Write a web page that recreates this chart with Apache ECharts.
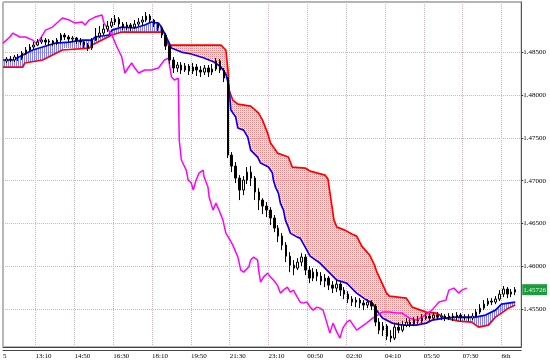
<!DOCTYPE html>
<html><head><meta charset="utf-8">
<script src="https://cdn.jsdelivr.net/npm/echarts@6/dist/echarts.min.js"></script>
<style>html,body{margin:0;padding:0;background:#fff}#c{width:550px;height:363px}</style>
</head><body><div id="c"></div>
<script>
// x unit: 5-minute bars, 0 = 13:10
const xTickBars = [-16.8, 0, 20, 40, 60, 80, 100, 120, 140, 160, 180, 200, 220, 240];
const xTickLabels = ['5', '13:10', '14:50', '16:30', '18:10', '19:50', '21:30', '23:10', '00:50', '02:30', '04:10', '05:50', '07:30', '6th'];
const yTicks = [1.455, 1.46, 1.465, 1.47, 1.475, 1.48, 1.485];
const lastPrice = 1.45726;

// [bar, open, close, low, high]
const candles = [
[-15,1.48398,1.48421,1.48375,1.48445],[-13,1.48421,1.48410,1.48386,1.48456],[-11,1.48410,1.48445,1.48386,1.48468],
[-9,1.48445,1.48433,1.48398,1.48480],[-7,1.48433,1.48491,1.48410,1.48515],[-5,1.48491,1.48527,1.48468,1.48562],
[-3,1.48527,1.48562,1.48503,1.48597],[-1,1.48562,1.48585,1.48538,1.48620],[1,1.48585,1.48620,1.48573,1.48655],
[3,1.48620,1.48643,1.48597,1.48679],[5,1.48643,1.48620,1.48585,1.48667],[7,1.48620,1.48632,1.48585,1.48655],
[9,1.48632,1.48608,1.48573,1.48643],[11,1.48608,1.48643,1.48585,1.48667],[13,1.48643,1.48702,1.48620,1.48725],
[15,1.48702,1.48679,1.48643,1.48725],[17,1.48679,1.48655,1.48620,1.48702],[19,1.48655,1.48667,1.48620,1.48690],
[21,1.48667,1.48632,1.48597,1.48679],[23,1.48632,1.48620,1.48585,1.48667],[25,1.48620,1.48585,1.48550,1.48632],
[27,1.48585,1.48550,1.48515,1.48608],[29,1.48550,1.48643,1.48527,1.48667],[31,1.48643,1.48690,1.48632,1.48784],
[33,1.48690,1.48725,1.48667,1.48807],[35,1.48725,1.48772,1.48702,1.48830],[37,1.48772,1.48807,1.48737,1.48866],
[39,1.48807,1.48854,1.48784,1.48901],[41,1.48854,1.48889,1.48819,1.48936],[43,1.48889,1.48830,1.48795,1.48912],
[45,1.48830,1.48795,1.48760,1.48854],[47,1.48795,1.48819,1.48760,1.48854],[49,1.48819,1.48795,1.48749,1.48842],
[51,1.48795,1.48830,1.48772,1.48877],[53,1.48830,1.48854,1.48807,1.48901],[55,1.48854,1.48877,1.48819,1.48924],
[57,1.48877,1.48924,1.48854,1.48971],[59,1.48924,1.48877,1.48842,1.48947],[61,1.48877,1.48830,1.48795,1.48889],
[63,1.48830,1.48784,1.48749,1.48854],[65,1.48784,1.48702,1.48667,1.48807],[67,1.48702,1.48573,1.48527,1.48725],
[69,1.48573,1.48410,1.48363,1.48597],[71,1.48410,1.48316,1.48258,1.48445],[73,1.48316,1.48351,1.48269,1.48386],
[75,1.48351,1.48293,1.48246,1.48386],[77,1.48293,1.48339,1.48269,1.48375],[79,1.48339,1.48281,1.48234,1.48363],
[81,1.48281,1.48328,1.48246,1.48375],[83,1.48328,1.48293,1.48223,1.48363],[85,1.48293,1.48269,1.48211,1.48339],
[87,1.48269,1.48316,1.48234,1.48351],[89,1.48316,1.48269,1.48211,1.48351],[91,1.48269,1.48304,1.48234,1.48363],
[93,1.48304,1.48398,1.48281,1.48433],[95,1.48398,1.48293,1.48258,1.48421],[97,1.48293,1.48199,1.48152,1.48316],
[99,1.48199,1.47299,1.47264,1.48211],[101,1.47299,1.47170,1.47100,1.47334],[103,1.47170,1.47030,1.46972,1.47217],
[105,1.47030,1.46890,1.46773,1.47065],[107,1.46890,1.47007,1.46831,1.47054],[109,1.47007,1.47100,1.46960,1.47159],
[111,1.47100,1.47030,1.46937,1.47170],[113,1.47030,1.46867,1.46773,1.47054],[115,1.46867,1.46773,1.46656,1.46913],
[117,1.46773,1.46703,1.46609,1.46796],[119,1.46703,1.46656,1.46574,1.46750],[121,1.46656,1.46563,1.46481,1.46691],
[123,1.46563,1.46446,1.46399,1.46598],[125,1.46446,1.46352,1.46282,1.46481],[127,1.46352,1.46247,1.46189,1.46387],
[129,1.46247,1.46118,1.46048,1.46282],[131,1.46118,1.46013,1.45931,1.46165],[133,1.46013,1.45978,1.45896,1.46072],
[135,1.45978,1.46048,1.45955,1.46095],[137,1.46048,1.46107,1.46002,1.46153],[139,1.46107,1.45955,1.45896,1.46142],
[141,1.45955,1.45861,1.45803,1.46002],[143,1.45861,1.45931,1.45826,1.45978],[145,1.45931,1.45885,1.45826,1.45967],
[147,1.45885,1.45826,1.45779,1.45931],[149,1.45826,1.45861,1.45756,1.45908],[151,1.45861,1.45779,1.45721,1.45885],
[153,1.45779,1.45744,1.45686,1.45826],[155,1.45744,1.45791,1.45698,1.45838],[157,1.45791,1.45721,1.45651,1.45814],
[159,1.45721,1.45674,1.45616,1.45756],[161,1.45674,1.45616,1.45569,1.45709],[163,1.45616,1.45581,1.45534,1.45651],
[165,1.45581,1.45604,1.45522,1.45639],[167,1.45604,1.45569,1.45510,1.45627],[169,1.45569,1.45546,1.45487,1.45604],
[171,1.45546,1.45581,1.45510,1.45616],[173,1.45581,1.45534,1.45487,1.45604],[175,1.45534,1.45347,1.45300,1.45557],
[177,1.45347,1.45253,1.45207,1.45394],[179,1.45253,1.45300,1.45183,1.45347],[181,1.45300,1.45183,1.45137,1.45323],
[183,1.45183,1.45160,1.45113,1.45253],[185,1.45160,1.45288,1.45137,1.45323],[187,1.45288,1.45253,1.45218,1.45347],
[189,1.45253,1.45312,1.45230,1.45359],[191,1.45312,1.45347,1.45288,1.45394],[193,1.45347,1.45323,1.45288,1.45382],
[195,1.45323,1.45370,1.45300,1.45405],[197,1.45370,1.45359,1.45323,1.45417],[199,1.45359,1.45394,1.45335,1.45440],
[201,1.45394,1.45417,1.45370,1.45452],[203,1.45417,1.45394,1.45359,1.45452],[205,1.45394,1.45429,1.45370,1.45464],
[207,1.45429,1.45405,1.45370,1.45464],[209,1.45405,1.45417,1.45370,1.45452],[211,1.45417,1.45394,1.45359,1.45440],
[213,1.45394,1.45417,1.45370,1.45452],[215,1.45417,1.45405,1.45359,1.45452],[217,1.45405,1.45429,1.45370,1.45464],
[219,1.45429,1.45394,1.45359,1.45452],[221,1.45394,1.45405,1.45370,1.45440],[223,1.45405,1.45394,1.45359,1.45440],
[225,1.45394,1.45417,1.45370,1.45452],[227,1.45417,1.45464,1.45394,1.45499],[229,1.45464,1.45510,1.45440,1.45557],
[231,1.45510,1.45557,1.45487,1.45604],[233,1.45557,1.45592,1.45534,1.45627],[235,1.45592,1.45581,1.45546,1.45627],
[237,1.45581,1.45616,1.45557,1.45651],[239,1.45616,1.45674,1.45592,1.45721],[241,1.45674,1.45733,1.45639,1.45768],
[243,1.45733,1.45674,1.45627,1.45756],[245,1.45674,1.45698,1.45639,1.45733],[247,1.45698,1.45726,1.45662,1.45756]
];

// Senkou span A (blue)
const spanA = [
[-16.8,1.48410],[-11.7,1.48410],[-6.6,1.48468],[-1.5,1.48527],[3.6,1.48562],[10.2,1.48608],[17.4,1.48620],
[24.0,1.48643],[29.1,1.48643],[30.6,1.48679],[37.8,1.48702],[39.3,1.48760],[44.4,1.48795],[51.1,1.48784],
[56.2,1.48819],[59.7,1.48854],[63.3,1.48842],[64.8,1.48795],[66.4,1.48725],[70.0,1.48550],[75.1,1.48503],
[80.2,1.48480],[86.8,1.48433],[91.9,1.48386],[95.5,1.48328],[98.0,1.48246],[99.6,1.48106],[100.6,1.47825],
[103.1,1.47743],[104.2,1.47615],[107.2,1.47591],[109.3,1.47509],[110.8,1.47358],[114.4,1.47276],[115.9,1.47206],
[120.0,1.47159],[122.0,1.47089],[122.5,1.47007],[123.6,1.46925],[125.1,1.46855],[126.1,1.46738],[127.7,1.46656],
[128.7,1.46539],[130.2,1.46457],[131.2,1.46387],[134.8,1.46340],[136.3,1.46329],[138.9,1.46224],[141.4,1.46118],
[146.5,1.46037],[150.1,1.45955],[155.2,1.45838],[160.3,1.45803],[165.4,1.45686],[170.5,1.45604],[173.6,1.45569],
[175.6,1.45487],[178.7,1.45394],[183.8,1.45335],[188.9,1.45312],[196.1,1.45312],[201.2,1.45335],[204.2,1.45370],
[210.9,1.45394],[216.5,1.45405],[219.6,1.45405],[226.7,1.45405],[231.8,1.45429],[236.9,1.45487],[240.0,1.45557],
[247.1,1.45581]
];

// Senkou span B (red)
const spanB = [
[-16.8,1.48328],[-6.6,1.48328],[-5.6,1.48375],[3.6,1.48410],[13.8,1.48527],[14.8,1.48550],[27.6,1.48550],
[29.1,1.48585],[34.2,1.48643],[39.3,1.48702],[44.4,1.48737],[64.8,1.48737],[66.4,1.48725],[68.4,1.48585],
[95.5,1.48585],[98.0,1.48527],[99.1,1.48293],[99.6,1.48059],[101.6,1.47942],[104.2,1.47895],[110.8,1.47872],
[114.9,1.47790],[116.9,1.47708],[119.5,1.47556],[121.0,1.47439],[123.6,1.47358],[124.6,1.47322],[130.2,1.47276],
[132.2,1.47159],[138.9,1.47147],[141.4,1.47112],[149.1,1.47065],[150.6,1.47018],[152.2,1.46773],[153.7,1.46539],
[155.2,1.46457],[159.3,1.46422],[162.9,1.46376],[165.4,1.46352],[168.0,1.46235],[172.1,1.46130],[174.6,1.46013],
[175.6,1.45943],[178.7,1.45791],[180.8,1.45686],[182.3,1.45651],[191.0,1.45627],[194.0,1.45522],[201.2,1.45464],
[206.3,1.45452],[210.9,1.45394],[218.0,1.45359],[224.7,1.45347],[228.2,1.45288],[233.3,1.45312],[236.9,1.45405],
[240.0,1.45452],[243.6,1.45510],[247.1,1.45546]
];

// Chikou span (magenta)
const chikou = [
[-16.8,1.48608],[-13.3,1.48679],[-11.7,1.48725],[-8.2,1.48679],[-5.1,1.48679],[-1.5,1.48643],[0,1.48608],
[2.0,1.48643],[5.1,1.48760],[8.7,1.48795],[13.8,1.48901],[17.4,1.48877],[20.4,1.48842],[24.0,1.48854],
[25.5,1.48819],[27.6,1.48877],[30.6,1.48912],[34.2,1.48936],[35.2,1.48842],[39.3,1.48702],[41.9,1.48562],
[44.4,1.48445],[46.0,1.48258],[48.0,1.48328],[49.5,1.48375],[51.1,1.48316],[53.1,1.48258],[56.2,1.48293],
[59.7,1.48293],[63.3,1.48316],[66.4,1.48410],[68.4,1.48433],[70.0,1.48211],[71.5,1.48176],[73.5,1.48199],
[74.0,1.47475],[75.1,1.47241],[77.6,1.47124],[78.6,1.47007],[80.2,1.46972],[81.2,1.46890],[82.7,1.47007],
[84.2,1.47089],[86.3,1.47124],[86.8,1.47042],[88.8,1.46925],[89.4,1.46808],[91.4,1.46656],[92.9,1.46738],
[94.5,1.46656],[96.5,1.46539],[98.0,1.46387],[99.6,1.46329],[101.6,1.46247],[104.2,1.46107],[105.7,1.45955],
[107.2,1.45931],[109.8,1.45990],[110.8,1.46072],[112.3,1.46107],[114.4,1.46072],[114.9,1.45955],[115.9,1.45814],
[117.4,1.45873],[119.5,1.45920],[121.0,1.45873],[122.5,1.45838],[124.6,1.45779],[126.1,1.45686],[127.7,1.45721],
[129.7,1.45756],[131.2,1.45698],[132.8,1.45721],[134.8,1.45639],[136.3,1.45581],[137.9,1.45569],[139.9,1.45581],
[141.4,1.45522],[143.0,1.45487],[145.0,1.45522],[146.5,1.45510],[148.1,1.45487],[150.1,1.45335],[151.6,1.45218],
[153.2,1.45335],[155.2,1.45230],[156.8,1.45160],[157.8,1.45137],[158.3,1.45277],[160.3,1.45347],[161.9,1.45370],
[165.4,1.45253],[170.5,1.45335],[173.6,1.45394],[178.7,1.45464],[182.3,1.45464],[185.9,1.45452],[188.9,1.45452],
[192.5,1.45394],[196.1,1.45370],[199.1,1.45405],[204.2,1.45487],[207.8,1.45581],[211.4,1.45604],[212.9,1.45721],
[215.5,1.45744],[218.0,1.45686],[219.6,1.45721],[222.1,1.45744]
];

// bars where span A and span B cross
const cloudCrossBars = [66.4, 210.9];

function makePattern(w, h, draw) {
  const c = document.createElement('canvas'); c.width = w; c.height = h;
  draw(c.getContext('2d'));
  return { image: c, repeat: 'repeat' };
}
const pinkPat = makePattern(2, 2, g => { g.fillStyle = '#ff7a7a'; g.fillRect(0, 0, 1, 1); g.fillStyle = '#ffdada'; g.fillRect(1, 1, 1, 1); });
const bluePat = makePattern(2, 2, g => { g.fillStyle = '#8080ff'; g.fillRect(0, 0, 1, 2); });

const bounds = [-Infinity].concat(cloudCrossBars, [Infinity]);
const cloudPieces = [];
for (let i = 0; i < bounds.length - 1; i++) {
  const lo = bounds[i], hi = bounds[i + 1];
  const a = spanA.filter(p => p[0] >= lo && p[0] <= hi);
  const b = spanB.filter(p => p[0] >= lo && p[0] <= hi);
  cloudPieces.push({ pts: a.concat(b.slice().reverse()), bull: (a[1] || a[0])[1] >= (b[1] || b[0])[1] });
}

const chart = echarts.init(document.getElementById('c'), null, { renderer: 'canvas' });
const font = 'Liberation Serif';
const gridLine = { show: true, lineStyle: { color: '#c9b6c6', width: 1, type: [1, 1] } };
const yMin = 1.45056, yMax = 1.49088;
chart.setOption({
  animation: false,
  backgroundColor: '#fff',
  textStyle: { fontFamily: font },
  grid: { left: 1, right: 27, top: 2, bottom: 16, show: true, borderColor: '#6a6a6a', borderWidth: 1 },
  xAxis: [{
    type: 'value', min: -16.8, max: 250.2,
    axisLine: { show: true, onZero: false, lineStyle: { color: '#444', width: 1 } },
    axisTick: { show: false, customValues: xTickBars },
    axisLabel: {
      customValues: xTickBars, align: 'left', fontSize: 7, color: '#000', margin: 6, fontFamily: font,
      formatter: v => { let k = 0; xTickBars.forEach((t, i) => { if (Math.abs(t - v) < 0.5) k = i; }); return xTickLabels[k]; }
    },
    splitLine: gridLine
  }, {
    type: 'value', min: -16.8, max: 250.2, position: 'bottom', offset: 3,
    axisLine: { show: true, onZero: false, lineStyle: { color: '#444', width: 1 } },
    axisTick: { show: false }, axisLabel: { show: false }, splitLine: { show: false }
  }],
  yAxis: [{
    type: 'value', position: 'right', min: yMin, max: yMax, scale: true,
    axisLine: { show: true, onZero: false, lineStyle: { color: '#555' } },
    axisTick: { show: true, customValues: yTicks, length: 2, lineStyle: { color: '#333' } },
    axisLabel: { customValues: yTicks, formatter: v => v.toFixed(5), fontSize: 7, color: '#000', margin: 2, fontFamily: font },
    splitLine: gridLine
  }, {
    type: 'value', position: 'right', min: yMin, max: yMax, scale: true,
    axisLine: { show: false, onZero: false }, axisTick: { show: false, customValues: [lastPrice] }, splitLine: { show: false },
    axisLabel: { customValues: [lastPrice], formatter: v => v.toFixed(5), fontSize: 7, color: '#d8ffe0', margin: 1, fontFamily: font,
      backgroundColor: '#1f9a3f', padding: [2, 1, 2, 1] }
  }],
  series: [
    {
      type: 'custom', clip: true, silent: true, z: 1,
      data: cloudPieces.map((p, i) => [i, 1.47]),
      renderItem: (params, api) => {
        const piece = cloudPieces[params.dataIndex];
        return { type: 'polygon', shape: { points: piece.pts.map(p => api.coord(p)) },
          style: { fill: piece.bull ? bluePat : pinkPat, stroke: null } };
      }
    },
    { type: 'line', data: spanB, showSymbol: false, z: 3, lineStyle: { color: '#ff0000', width: 1.7 }, itemStyle: { color: '#ff0000' } },
    { type: 'line', data: spanA, showSymbol: false, z: 4, lineStyle: { color: '#0000ff', width: 1.7 }, itemStyle: { color: '#0000ff' } },
    { type: 'line', data: chikou, showSymbol: false, z: 5, lineStyle: { color: '#ff00ff', width: 1.5 }, itemStyle: { color: '#ff00ff' } },
    {
      type: 'candlestick', data: candles, z: 6, barWidth: 2,
      itemStyle: { color: '#ffffff', color0: '#000000', borderColor: '#000000', borderColor0: '#000000', borderWidth: 1 }
    }
  ]
});
</script></body></html>
